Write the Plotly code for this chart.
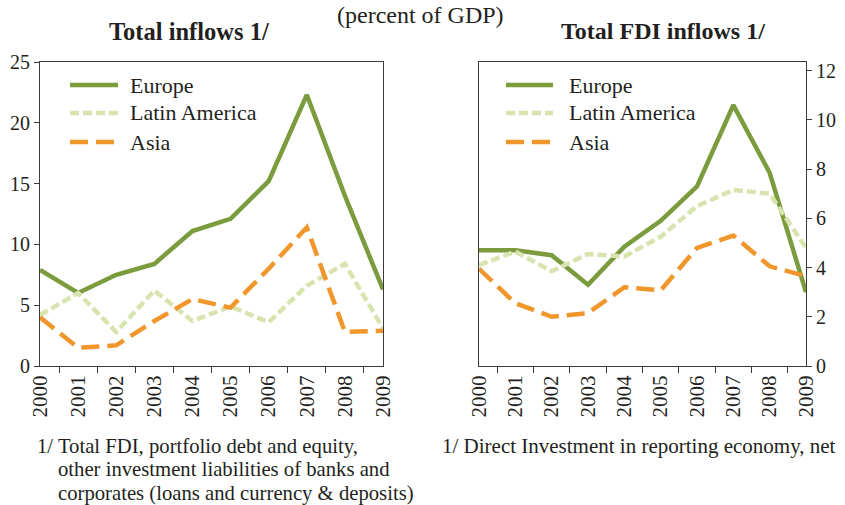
import plotly.graph_objects as go

years = ["2000", "2001", "2002", "2003", "2004", "2005", "2006", "2007", "2008", "2009"]

# Total inflows (percent of GDP)
total_europe = [7.9, 6.0, 7.5, 8.4, 11.1, 12.1, 15.2, 22.3, 14.0, 6.3]
total_latam = [4.2, 6.0, 2.8, 6.2, 3.7, 4.9, 3.6, 6.6, 8.4, 3.1]
total_asia = [4.0, 1.5, 1.7, 3.7, 5.5, 4.8, 8.0, 11.4, 2.8, 2.9]

# Total FDI inflows (percent of GDP)
fdi_europe = [4.7, 4.7, 4.5, 3.3, 4.85, 5.9, 7.3, 10.6, 7.85, 3.0]
fdi_latam = [4.1, 4.65, 3.85, 4.55, 4.45, 5.25, 6.5, 7.15, 7.0, 4.8]
fdi_asia = [3.95, 2.55, 2.0, 2.15, 3.2, 3.07, 4.8, 5.3, 4.05, 3.65]

left_ticks = [0, 5, 10, 15, 20, 25]
right_ticks = [0, 2, 4, 6, 8, 10, 12]

GREEN = "#7B9B3C"
LIGHT = "#D8E4B0"
ORANGE = "#F0962A"
TXT = "#231F20"
FONT = "Liberation Serif"
W, H = 845, 505

series = [
    ("Europe", GREEN, "solid"),
    ("Latin America", LIGHT, "9px,4px"),
    ("Asia", ORANGE, "18px,8px"),
]

fig = go.Figure()
for (name, color, dash), vals in zip(series, [total_europe, total_latam, total_asia]):
    fig.add_trace(go.Scatter(x=years, y=vals, mode="lines", name=name,
                             line=dict(color=color, width=4.5, dash=dash),
                             xaxis="x", yaxis="y", showlegend=False))
for (name, color, dash), vals in zip(series, [fdi_europe, fdi_latam, fdi_asia]):
    fig.add_trace(go.Scatter(x=years, y=vals, mode="lines", name=name,
                             line=dict(color=color, width=4.5, dash=dash),
                             xaxis="x2", yaxis="y2", showlegend=False))

axis_common = dict(showgrid=False, zeroline=False, showline=True, mirror=True,
                   linecolor="#3a3a3a", linewidth=1.2, ticks="outside",
                   tickcolor="#3a3a3a", automargin=False)
xfont = dict(family=FONT, size=21, color=TXT)
yfont = dict(family=FONT, size=20, color=TXT)

ydom = [1 - 366 / H, 1 - 62 / H]
fig.update_layout(
    template="none",
    width=W, height=H, autosize=False,
    margin=dict(l=0, r=0, t=0, b=0, pad=0),
    paper_bgcolor="white", plot_bgcolor="white",
    font=dict(family=FONT, color=TXT),
    showlegend=False,
    xaxis=dict(domain=[40 / W, 383 / W], type="category", tickson="boundaries",
               ticklen=6, tickangle=-90, anchor="y", tickfont=xfont, **axis_common),
    yaxis=dict(domain=ydom, range=[0, 25], tickvals=left_ticks, ticklen=5,
               anchor="x", tickfont=yfont, **axis_common),
    xaxis2=dict(domain=[479 / W, 806 / W], type="category", tickson="boundaries",
                ticklen=6, tickangle=-90, anchor="y2", tickfont=xfont, **axis_common),
    yaxis2=dict(domain=ydom, range=[0, 12.35], tickvals=right_ticks, ticklen=5,
                side="right", anchor="x2", tickfont=yfont, **axis_common),
)

def note(text, x, y, size, anchor="left"):
    return dict(text=text, x=x / W, y=1 - y / H, xref="paper", yref="paper",
                xanchor=anchor, yanchor="middle", showarrow=False,
                font=dict(family=FONT, size=size, color=TXT))

ann = [
    note("(percent of GDP)", 420, 15, 24, "center"),
    note("<b>Total inflows 1/</b>", 189, 31, 24.5, "center"),
    note("<b>Total FDI inflows 1/</b>", 663, 31, 24, "center"),
    note("1/ Total FDI, portfolio debt and equity,", 35, 446, 20.7),
    note("other investment liabilities of banks and", 56, 469, 20.7),
    note("corporates (loans and currency &amp; deposits)", 56, 493, 20.7),
    note("1/ Direct Investment in reporting economy, net", 440, 446, 21),
]

# Legend (one per panel): sample line + label
shapes = []
legend_rows = [85, 113, 142]
for x0, x1, xt in [(70, 118, 128), (506, 553, 567)]:
    for (name, color, dash), yy in zip(series, legend_rows):
        shapes.append(dict(type="line", xref="paper", yref="paper",
                           x0=x0 / W, x1=x1 / W, y0=1 - yy / H, y1=1 - yy / H,
                           line=dict(color=color, width=4.5, dash=dash)))
        ann.append(note(name, xt, yy, 22))

fig.update_layout(annotations=ann, shapes=shapes)

fig.write_html("out.html", config={"displayModeBar": False},
               post_script="document.body.style.margin='0';document.body.style.padding='0';")
